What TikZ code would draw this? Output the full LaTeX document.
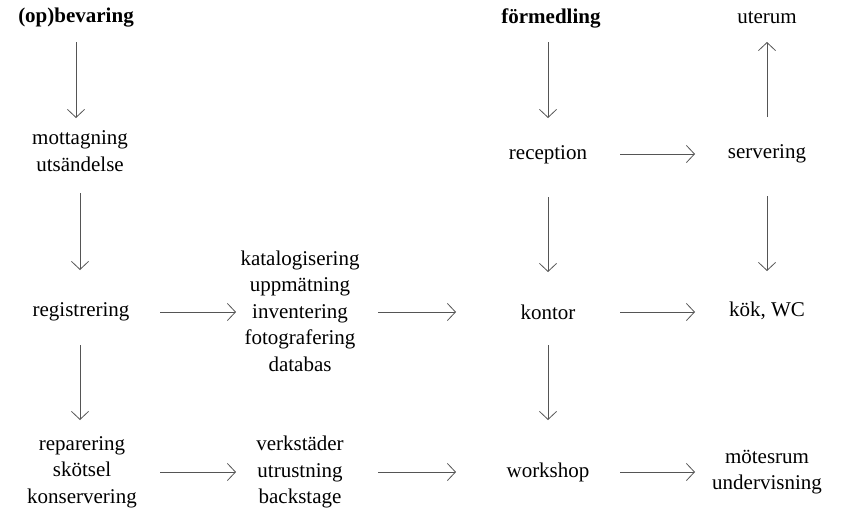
\documentclass[tikz,border=0pt]{standalone}
\usepackage{fontspec}
\setmainfont{Liberation Serif}
\usetikzlibrary{arrows.meta}

\definecolor{linegray}{RGB}{85,85,85}

\begin{document}
\begin{tikzpicture}[x=1pt, y=-1pt,
    every node/.style={align=center, inner sep=0pt, font=\fontsize{21}{26.5}\selectfont},
    head/.style={font=\fontsize{21}{26.5}\selectfont\bfseries},
    flow/.style={-{Straight Barb[length=8pt, width=17pt]}, draw=linegray, line width=0.8pt}]
    \useasboundingbox (0,0) rectangle (845,509);

    % left column
    \node[head] (bev) at (76,18) {(op)bevaring};
    \node (mott) at (80,151) {mottagning\\utsändelse};
    \node (reg) at (81,312) {registrering};
    \node (rep) at (82,472) {reparering\\skötsel\\konservering};

    % middle column
    \node (kat) at (300,311) {katalogisering\\uppmätning\\inventering\\fotografering\\databas};
    \node (verk) at (300,472) {verkstäder\\utrustning\\backstage};

    % förmedling
    \node[head] (form) at (551,18) {förmedling};
    \node (rec) at (548,155) {reception};
    \node (kont) at (548,312) {kontor};
    \node (work) at (548,472) {workshop};

    % right column
    \node (ute) at (767,18) {uterum};
    \node (serv) at (767,154) {servering};
    \node (kok) at (767,311) {kök, WC};
    \node (mote) at (767,472) {mötesrum\\undervisning};

    % vertical arrows
    \draw[flow, shorten <=24pt, shorten >=33pt] (bev.center) -- (mott.center -| bev.center) ;
    \draw[flow, shorten <=42pt, shorten >=42pt] (mott.center) -- (reg.center -| mott.center);
    \draw[flow, shorten <=33pt, shorten >=52pt] (reg.center -| mott.center) -- (rep.center -| mott.center);
    \draw[flow, shorten <=24pt, shorten >=37pt] (form.center -| rec.center) -- (rec.center);
    \draw[flow, shorten <=42pt, shorten >=40pt] (rec.center) -- (kont.center);
    \draw[flow, shorten <=33pt, shorten >=52pt] (kont.center) -- (work.center);
    \draw[flow, shorten <=37pt, shorten >=24pt] (serv.center) -- (ute.center);
    \draw[flow, shorten <=42pt, shorten >=40pt] (serv.center) -- (kok.center);

    % horizontal arrows
    \draw[flow, shorten <=79pt, shorten >=64pt] (reg.center) -- (kat.center |- reg.center);
    \draw[flow, shorten <=78pt, shorten >=92pt] (kat.center |- kont.center) -- (kont.center);
    \draw[flow, shorten <=78pt, shorten >=64pt] (rep.center) -- (verk.center);
    \draw[flow, shorten <=78pt, shorten >=92pt] (verk.center) -- (work.center);
    \draw[flow, shorten <=72pt, shorten >=72pt] (rec.center |- serv.center) -- (serv.center);
    \draw[flow, shorten <=72pt, shorten >=72pt] (kont.center) -- (kok.center |- kont.center);
    \draw[flow, shorten <=72pt, shorten >=72pt] (work.center) -- (mote.center);
\end{tikzpicture}
\end{document}
